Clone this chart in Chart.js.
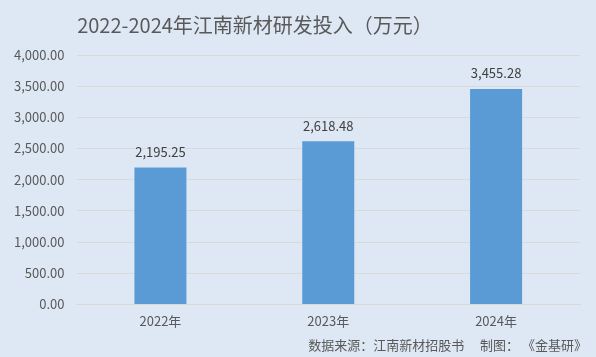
<!DOCTYPE html>
<html><head><meta charset="utf-8">
<script src="https://cdn.jsdelivr.net/npm/chart.js@4/dist/chart.umd.min.js"></script>
<style>
html,body{margin:0;padding:0;background:#dee8f4;}
#wrap{width:596px;height:357px;position:relative;}
</style></head>
<body><div id="wrap"><canvas id="c" width="596" height="357"></canvas></div>
<script>
const categories = ["2022年", "2023年", "2024年"];
const rdInvestment = [2195.25, 2618.48, 3455.28];
const titleText = "2022-2024年江南新材研发投入（万元）";
const sourceText = "数据来源：江南新材招股书　 制图： 《金基研》";
const FONT = "'Noto Sans CJK SC', 'Noto Sans', sans-serif";
const fmt = v => v.toLocaleString('en-US', {minimumFractionDigits: 2, maximumFractionDigits: 2});

const deco = {
  id: 'deco',
  beforeDraw(chart) {
    const ctx = chart.ctx;
    ctx.save();
    ctx.fillStyle = '#dee8f4';
    ctx.fillRect(0, 0, chart.width, chart.height);
    ctx.restore();
  },
  afterDraw(chart) {
    const ctx = chart.ctx;
    ctx.save();
    ctx.fillStyle = '#595959';
    ctx.font = "20px " + FONT;
    ctx.textAlign = 'center';
    ctx.textBaseline = 'middle';
    ctx.fillText(titleText, 255, 25);
    ctx.font = "13px " + FONT;
    ctx.textAlign = 'right';
    ctx.fillText(sourceText, 587, 345);
    ctx.restore();
  },
  afterDatasetsDraw(chart) {
    const ctx = chart.ctx;
    const meta = chart.getDatasetMeta(0);
    ctx.save();
    ctx.fillStyle = '#404040';
    ctx.font = "13px " + FONT;
    ctx.textAlign = 'center';
    ctx.textBaseline = 'bottom';
    meta.data.forEach((bar, i) => {
      ctx.fillText(fmt(chart.data.datasets[0].data[i]), bar.x, bar.y - 9);
    });
    ctx.restore();
  }
};

new Chart(document.getElementById('c'), {
  type: 'bar',
  data: {
    labels: categories,
    datasets: [{
      data: rdInvestment,
      backgroundColor: '#5b9bd5',
      barPercentage: 0.62,
      categoryPercentage: 0.5
    }]
  },
  options: {
    responsive: false,
    animation: false,
    layout: { padding: { top: 55, right: 16, bottom: 19, left: 2 } },
    plugins: { legend: { display: false }, title: { display: false }, tooltip: { enabled: false } },
    scales: {
      x: {
        grid: { display: false, drawTicks: false },
        border: { display: true, color: '#d9d9d9' },
        ticks: { color: '#595959', font: { family: FONT, size: 13 }, padding: 9 }
      },
      y: {
        min: 0, max: 4000,
        grid: { color: '#d9d9d9', drawTicks: false },
        border: { display: false },
        ticks: { stepSize: 500, color: '#595959', font: { family: FONT, size: 13 }, padding: 12,
                 callback: v => fmt(v) }
      }
    }
  },
  plugins: [deco]
});
</script></body></html>
